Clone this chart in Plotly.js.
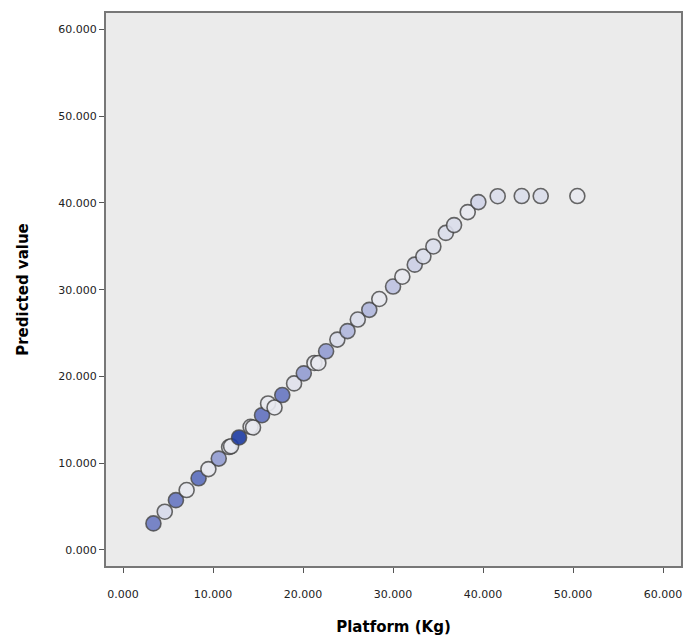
<!DOCTYPE html>
<html>
<head>
<meta charset="utf-8">
<script src="https://cdn.plot.ly/plotly-3.0.1.min.js"></script>
<style>html,body{margin:0;padding:0;background:#fff;}#chart{width:685px;height:636px;}</style>
</head>
<body>
<div id="chart"></div>
<script>
// Observed platform weight (Kg)
var platform = [3.37, 4.63, 5.87, 7.06, 8.39, 9.48, 10.63, 11.78, 12.00, 12.89,
  14.17, 14.44, 15.44, 16.11, 16.83, 17.69, 19.00, 20.08, 21.26, 21.70,
  22.56, 23.81, 24.94, 26.08, 27.36, 28.47, 30.00, 31.03, 32.41, 33.37,
  34.48, 35.87, 36.78, 38.30, 39.48, 41.63, 44.30, 46.41, 50.48];
// Predicted value
var predicted = [3.06, 4.41, 5.74, 6.91, 8.26, 9.32, 10.53, 11.86, 11.95, 12.97,
  14.20, 14.12, 15.53, 16.89, 16.43, 17.86, 19.20, 20.36, 21.56, 21.56,
  22.90, 24.25, 25.23, 26.56, 27.68, 28.93, 30.37, 31.50, 32.89, 33.83,
  34.99, 36.55, 37.45, 38.95, 40.10, 40.78, 40.80, 40.80, 40.80];
// Colour variable (relative intensity, 0 = light, 1 = dark blue)
var intensity = [0.60, 0.10, 0.62, 0.00, 0.68, 0.00, 0.45, 0.00, 0.00, 1.00,
  0.00, 0.00, 0.65, 0.00, 0.00, 0.62, 0.05, 0.45, 0.00, 0.00,
  0.45, 0.08, 0.33, 0.08, 0.33, 0.00, 0.27, 0.00, 0.18, 0.08,
  0.08, 0.08, 0.08, 0.00, 0.15, 0.08, 0.08, 0.08, 0.00];
var tickVals = [0, 10, 20, 30, 40, 50, 60];
var tickText = ['0.000', '10.000', '20.000', '30.000', '40.000', '50.000', '60.000'];

var trace = {
  type: 'scatter', mode: 'markers',
  x: platform, y: predicted,
  marker: {
    size: 15,
    color: intensity, cmin: 0, cmax: 1,
    colorscale: [[0, '#e8e9f0'], [0.3, '#b9bfe0'], [0.6, '#6c7ac3'], [1, '#1e3ca4']],
    showscale: false,
    opacity: 0.9,
    line: {color: 'rgba(60,60,60,0.85)', width: 1.6}
  },
  hoverinfo: 'x+y'
};

var tickFont = {family: 'DejaVu Sans, sans-serif', size: 11, color: '#222'};
var titleFont = {family: 'DejaVu Sans, sans-serif', size: 15, color: '#000', weight: 'bold'};

var layout = {
  width: 685, height: 636,
  margin: {l: 106, r: 4, t: 13, b: 70},
  paper_bgcolor: '#ffffff',
  plot_bgcolor: '#ebebeb',
  showlegend: false,
  xaxis: {
    range: [-1.9, 62.0],
    tickvals: tickVals, ticktext: tickText,
    ticks: 'outside', ticklen: 5, tickwidth: 1, tickcolor: '#555',
    tickfont: tickFont, ticklabelstandoff: 12,
    showgrid: false, zeroline: false,
    showline: true, mirror: true, linecolor: '#777', linewidth: 2,
    title: {text: 'Platform (Kg)', font: titleFont, standoff: 22}
  },
  yaxis: {
    range: [-1.85, 61.9],
    tickvals: tickVals, ticktext: tickText,
    ticks: 'outside', ticklen: 5, tickwidth: 1, tickcolor: '#555',
    tickfont: tickFont,
    showgrid: false, zeroline: false,
    showline: true, mirror: true, linecolor: '#777', linewidth: 2,
    title: {text: 'Predicted value', font: titleFont, standoff: 26}
  }
};

Plotly.newPlot('chart', [trace], layout, {displayModeBar: false, staticPlot: true});
</script>
</body>
</html>
